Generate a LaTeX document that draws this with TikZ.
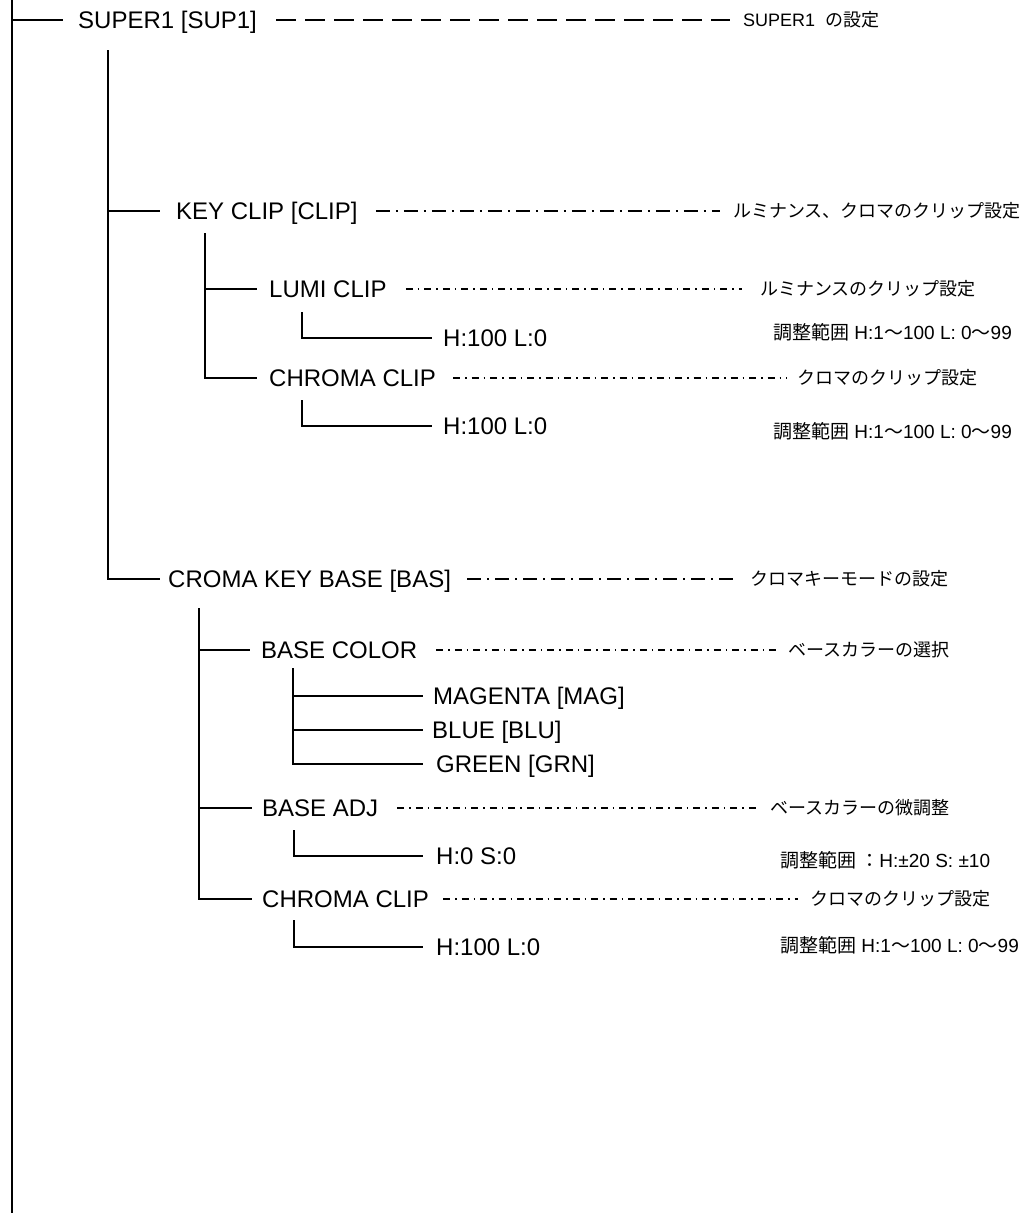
\documentclass[tikz,border=0pt]{standalone}
\usepackage{fontspec}
\setmainfont{Liberation Sans}
\newfontfamily\jp{Noto Sans CJK JP}
\begin{document}
\begin{tikzpicture}[x=1pt,y=-1pt]
\tikzset{
 tree/.style={line width=2pt},
 main/.style={anchor=west, inner sep=0pt, font=\fontsize{24}{28}\selectfont, text height=17.2pt, text depth=0pt},
 note/.style={anchor=west, inner sep=0pt, font=\fontsize{18}{22}\selectfont, text height=13pt, text depth=0pt},
 rangelbl/.style={note, font=\fontsize{19}{23}\selectfont},
 dashA/.style={line width=2.2pt, dash pattern=on 20pt off 9pt},
 dashB/.style={line width=1.6pt, dash pattern=on 14pt off 6pt on 2pt off 6pt},
 dashC/.style={line width=1.3pt, dash pattern=on 7pt off 5pt on 1.5pt off 5pt},
}
\useasboundingbox (0,0) rectangle (1035,1213);
\fill[white] (0,0) rectangle (1035,1213);

% text nodes
\node[main] (sup) at (78,20) {SUPER1 [SUP1]};
\node[note] (supL) at (743,20) {SUPER1\hspace{10pt}{\jp の設定}};
\node[main] (clip) at (176,211) {KEY CLIP [CLIP]};
\node[note] (clipL) at (733,211) {{\jp ルミナンス、クロマのクリップ設定}};
\node[main] (lumi) at (269,289) {LUMI CLIP};
\node[note] (lumiL) at (760,289) {{\jp ルミナンスのクリップ設定}};
\node[main] (lumiV) at (443,338) {H:100 L:0};
\node[rangelbl] (lumiR) at (773,333) {{\jp 調整範囲} H:1{\jp ～}100 L: 0{\jp ～}99};
\node[main] (cc1) at (269,378) {CHROMA CLIP};
\node[note] (cc1L) at (797,378) {{\jp クロマのクリップ設定}};
\node[main] (cc1V) at (443,426) {H:100 L:0};
\node[rangelbl] (cc1R) at (773,432) {{\jp 調整範囲} H:1{\jp ～}100 L: 0{\jp ～}99};
\node[main] (base) at (168,579) {CROMA KEY BASE [BAS]};
\node[note] (baseL) at (750,579) {{\jp クロマキーモードの設定}};
\node[main] (bcol) at (261,650) {BASE COLOR};
\node[note] (bcolL) at (788,650) {{\jp ベースカラーの選択}};
\node[main] (mag) at (433,696) {MAGENTA [MAG]};
\node[main] (blu) at (432,730) {BLUE [BLU]};
\node[main] (grn) at (436,764) {GREEN [GRN]};
\node[main] (badj) at (262,808) {BASE ADJ};
\node[note] (badjL) at (770,808) {{\jp ベースカラーの微調整}};
\node[main] (badjV) at (436,856) {H:0 S:0};
\node[rangelbl] (badjR) at (780,861) {{\jp 調整範囲 ：}H:±20 S: ±10};
\node[main] (cc2) at (262,899) {CHROMA CLIP};
\node[note] (cc2L) at (810,899) {{\jp クロマのクリップ設定}};
\node[main] (cc2V) at (436,947) {H:100 L:0};
\node[rangelbl] (cc2R) at (780,946) {{\jp 調整範囲} H:1{\jp ～}100 L: 0{\jp ～}99};

% tree coordinates
\coordinate (t0) at (12,0);
\coordinate (b0) at (12,1213);
\coordinate (t1) at (108,50);
\coordinate (t2) at (205,233);
\coordinate (t3) at (302,312);
\coordinate (t4) at (302,400);
\coordinate (t5) at (199,608);
\coordinate (t6) at (293,668);
\coordinate (t7) at (294,830);
\coordinate (t8) at (294,920);

% tree lines
\draw[tree, line width=2.4pt] (t0) -- (b0);
\draw[tree] (t0 |- sup.west) -- ([xshift=-15]sup.west);
\draw[tree] (t1) |- ([xshift=-8]base.west);
\draw[tree] (t1 |- clip.west) -- ([xshift=-16]clip.west);
\draw[tree] (t2) |- ([xshift=-12]cc1.west);
\draw[tree] (t2 |- lumi.west) -- ([xshift=-12]lumi.west);
\draw[tree] (t3) |- ([xshift=-11]lumiV.west);
\draw[tree] (t4) |- ([xshift=-11]cc1V.west);
\draw[tree] (t5) |- ([xshift=-10]cc2.west);
\draw[tree] (t5 |- bcol.west) -- ([xshift=-11]bcol.west);
\draw[tree] (t5 |- badj.west) -- ([xshift=-10]badj.west);
\draw[tree] (t6) |- ([xshift=-13]grn.west);
\draw[tree] (t6 |- mag.west) -- ([xshift=-10]mag.west);
\draw[tree] (t6 |- blu.west) -- ([xshift=-9]blu.west);
\draw[tree] (t7) |- ([xshift=-13]badjV.west);
\draw[tree] (t8) |- ([xshift=-13]cc2V.west);

% leader lines
\draw[dashA] ([xshift=19]sup.east) -- ([xshift=-13]supL.west);
\draw[dashB] ([xshift=18]clip.east) -- ([xshift=-13]clipL.west);
\draw[dashC] ([xshift=19]lumi.east) -- ([xshift=-18]lumiL.west);
\draw[dashC] ([xshift=17]cc1.east) -- ([xshift=-10]cc1L.west);
\draw[dashB] ([xshift=16]base.east) -- ([xshift=-12]baseL.west);
\draw[dashC] ([xshift=19]bcol.east) -- ([xshift=-11]bcolL.west);
\draw[dashC] ([xshift=19]badj.east) -- ([xshift=-13]badjL.west);
\draw[dashC] ([xshift=14]cc2.east) -- ([xshift=-12]cc2L.west);
\end{tikzpicture}
\end{document}
